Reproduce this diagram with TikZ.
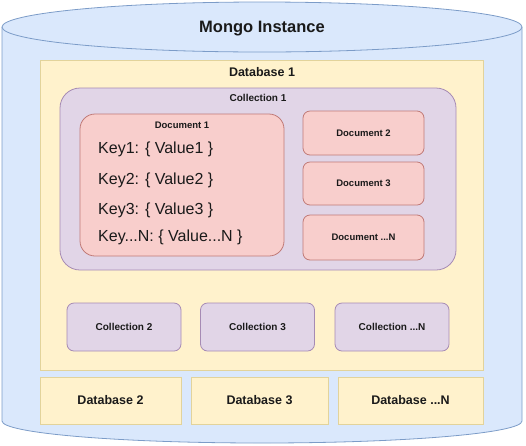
\documentclass[tikz,border=0pt]{standalone}
\usepackage{fontspec}
\setmainfont{Liberation Sans}
\usepackage{xcolor}
\usetikzlibrary{shapes.geometric}
\definecolor{cylfill}{HTML}{DAE8FC}
\definecolor{cylline}{HTML}{7C9CC8}
\definecolor{dbfill}{HTML}{FFF2CC}
\definecolor{dbline}{HTML}{E2D39B}
\definecolor{collfill}{HTML}{E1D5E7}
\definecolor{collline}{HTML}{A68BB4}
\definecolor{docfill}{HTML}{F8CECC}
\definecolor{docline}{HTML}{C07A77}
\definecolor{ink}{HTML}{1A1A1A}

\begin{document}
\begin{tikzpicture}[x=1pt, y=-1pt,
  dbbox/.style={draw=dbline, fill=dbfill, line width=0.8pt, inner sep=0pt},
  collbox/.style={draw=collline, fill=collfill, line width=0.8pt, rounded corners=7pt, inner sep=0pt},
  docbox/.style={draw=docline, fill=docfill, line width=0.8pt, rounded corners=7pt, inner sep=0pt},
  boldlbl/.style={text=ink, font=\bfseries},
  keyline/.style={text=ink, anchor=west, inner sep=0pt, font=\fontsize{16}{19}\selectfont}]
  \useasboundingbox (0,0) rectangle (526,445);

  % Cylinder body
  \path[fill=cylfill] (2,27) -- (2,421)
    arc[start angle=180, end angle=360, x radius=260pt, y radius=22pt]
    -- (522,27) -- cycle;
  \draw[cylline, line width=0.8pt] (2,27) -- (2,421)
    arc[start angle=180, end angle=360, x radius=260pt, y radius=22pt]
    -- (522,27);
  \node[ellipse, draw=cylline, fill=cylfill, line width=0.8pt,
    minimum width=520pt, minimum height=50pt, inner sep=0pt] (inst) at (262,27) {};
  \node[boldlbl, font=\bfseries\fontsize{16.5}{19}\selectfont] (instlbl) at (262,28.5) {Mongo Instance};

  % Database 1
  \node[dbbox, minimum width=443pt, minimum height=310pt] (db1) at (261.5,215) {};
  \node[boldlbl, font=\bfseries\fontsize{12.5}{15}\selectfont] (db1lbl) at (262,72) {Database 1};

  % Collection 1
  \node[collbox, rounded corners=20pt, minimum width=396pt, minimum height=182pt] (coll1) at (258,179) {};
  \node[boldlbl, font=\bfseries\fontsize{10}{12}\selectfont] (coll1lbl) at (258,98) {Collection 1};

  % Document 1 with its keys
  \node[docbox, rounded corners=15pt, minimum width=204pt, minimum height=142pt] (doc1) at (182,185) {};
  \node[boldlbl, font=\bfseries\fontsize{9.5}{11}\selectfont] (doc1lbl) at (182,125) {Document 1};
  \node[keyline] (key1) at (98,149) {Key1: \{ Value1 \}};
  \node[keyline] (key2) at (98,180) {Key2: \{ Value2 \}};
  \node[keyline] (key3) at (98,210) {Key3: \{ Value3 \}};
  \node[keyline] (keyN) at (98,237) {Key...N: \{ Value...N \}};

  % Other documents
  \node[docbox, minimum width=121pt, minimum height=44pt, boldlbl,
    font=\bfseries\fontsize{9.5}{11}\selectfont] (doc2) at (363.5,133) {Document 2};
  \node[docbox, minimum width=121pt, minimum height=43pt, boldlbl,
    font=\bfseries\fontsize{9.5}{11}\selectfont] (doc3) at (363.5,183.5) {Document 3};
  \node[docbox, minimum width=121pt, minimum height=45pt, boldlbl,
    font=\bfseries\fontsize{9.5}{11}\selectfont] (docN) at (363.5,237.5) {Document ...N};

  % Other collections
  \node[collbox, minimum width=114pt, minimum height=48pt, boldlbl,
    font=\bfseries\fontsize{10}{12}\selectfont] (coll2) at (124,327) {Collection 2};
  \node[collbox, minimum width=114pt, minimum height=48pt, boldlbl,
    font=\bfseries\fontsize{10}{12}\selectfont] (coll3) at (257.5,327) {Collection 3};
  \node[collbox, minimum width=114pt, minimum height=48pt, boldlbl,
    font=\bfseries\fontsize{10}{12}\selectfont] (collN) at (392,327) {Collection ...N};

  % Other databases
  \node[dbbox, minimum width=141pt, minimum height=47pt, boldlbl,
    font=\bfseries\fontsize{12.5}{15}\selectfont] (db2) at (110.5,400.5) {Database 2};
  \node[dbbox, minimum width=137pt, minimum height=47pt, boldlbl,
    font=\bfseries\fontsize{12.5}{15}\selectfont] (db3) at (259.5,400.5) {Database 3};
  \node[dbbox, minimum width=145pt, minimum height=47pt, boldlbl,
    font=\bfseries\fontsize{12.5}{15}\selectfont] (dbN) at (410.5,400.5) {Database ...N};
\end{tikzpicture}
\end{document}
